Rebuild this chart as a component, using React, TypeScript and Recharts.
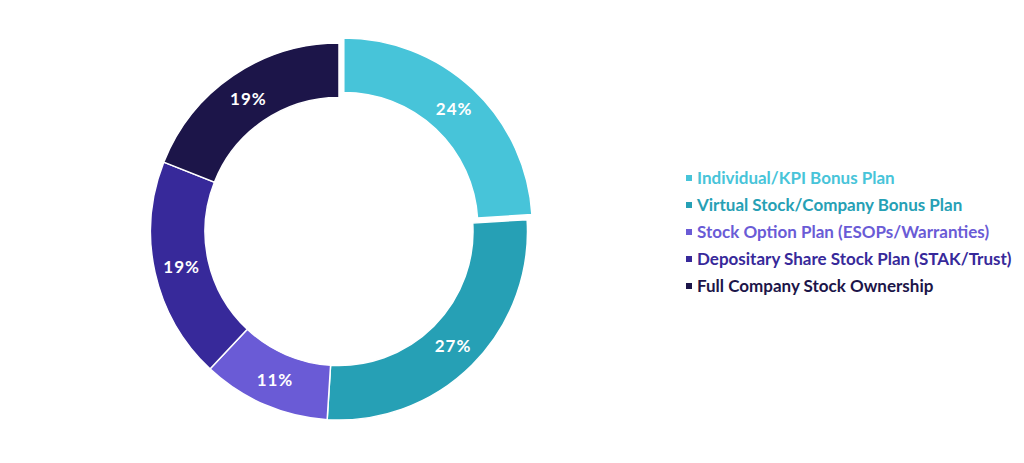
import React from "react";
import { PieChart, Pie, Cell, Legend } from "recharts";

const categories = [
  "Individual/KPI Bonus Plan",
  "Virtual Stock/Company Bonus Plan",
  "Stock Option Plan (ESOPs/Warranties)",
  "Depositary Share Stock Plan (STAK/Trust)",
  "Full Company Stock Ownership",
];
const values = [24, 27, 11, 19, 19];
const colors = ["#47C4D9", "#26A0B5", "#6A5BD6", "#37299A", "#1C1549"];

const data = categories.map((name, i) => ({ name, value: values[i] }));

const FONT = "Lato, 'Noto Sans', sans-serif";
const RAD = Math.PI / 180;

const CX = 331;
const CY = 223.5;
const INNER = 134;
const OUTER = 188.5;
const EXPLODE = 7;
const EXPLODED = 0;
const midDeg = 90 - (values[0] / 2 / 100) * 360;
const EX_CX = CX + EXPLODE * Math.cos(midDeg * RAD);
const EY_CY = CY - EXPLODE * Math.sin(midDeg * RAD);

const makeLabel = (showExploded: boolean) => (props: any) => {
  const { cx, cy, midAngle, innerRadius, outerRadius, index, value } = props;
  if ((index === EXPLODED) !== showExploded) return null;
  const r = (innerRadius + outerRadius) / 2;
  const x = cx + r * Math.cos(-midAngle * RAD);
  const y = cy + r * Math.sin(-midAngle * RAD);
  return (
    <text
      x={x}
      y={y}
      fill="#FFFFFF"
      textAnchor="middle"
      dominantBaseline="central"
      fontFamily={FONT}
      fontWeight={700}
      fontSize={17}
      letterSpacing={1}
    >
      {`${value}%`}
    </text>
  );
};

const renderLegend = () => (
  <div style={{ fontFamily: FONT, fontWeight: 700, fontSize: 17, whiteSpace: "nowrap" }}>
    {categories.map((c, i) => (
      <div
        key={c}
        style={{ display: "flex", alignItems: "center", height: 27, color: colors[i] }}
      >
        <span
          style={{
            display: "inline-block",
            width: 6,
            height: 6,
            background: colors[i],
            marginRight: 5,
            flexShrink: 0,
          }}
        />
        <span>{c}</span>
      </div>
    ))}
  </div>
);

export default function App() {
  return (
    <div style={{ width: 1008, height: 447, background: "#fff" }}>
      <PieChart
        width={1008}
        height={447}
        margin={{ top: 0, right: 0, bottom: 0, left: 0 }}
      >
        <Pie
          data={data}
          dataKey="value"
          nameKey="name"
          cx={CX}
          cy={CY}
          innerRadius={INNER}
          outerRadius={OUTER}
          startAngle={90}
          endAngle={-270}
          isAnimationActive={false}
          label={makeLabel(false)}
          labelLine={false}
        >
          {data.map((d, i) => (
            <Cell
              key={d.name}
              fill={i === EXPLODED ? "transparent" : colors[i]}
              stroke={i === EXPLODED ? "none" : "#FFFFFF"}
              strokeWidth={1.5}
            />
          ))}
        </Pie>
        <Pie
          data={data}
          dataKey="value"
          nameKey="name"
          cx={EX_CX}
          cy={EY_CY}
          innerRadius={INNER}
          outerRadius={OUTER}
          startAngle={90}
          endAngle={-270}
          isAnimationActive={false}
          label={makeLabel(true)}
          labelLine={false}
        >
          {data.map((d, i) => (
            <Cell
              key={d.name}
              fill={i === EXPLODED ? colors[i] : "transparent"}
              stroke={i === EXPLODED ? "#FFFFFF" : "none"}
              strokeWidth={1.5}
            />
          ))}
        </Pie>
        <Legend
          content={renderLegend}
          wrapperStyle={{ left: 678, top: 156, width: 330 }}
        />
      </PieChart>
    </div>
  );
}
